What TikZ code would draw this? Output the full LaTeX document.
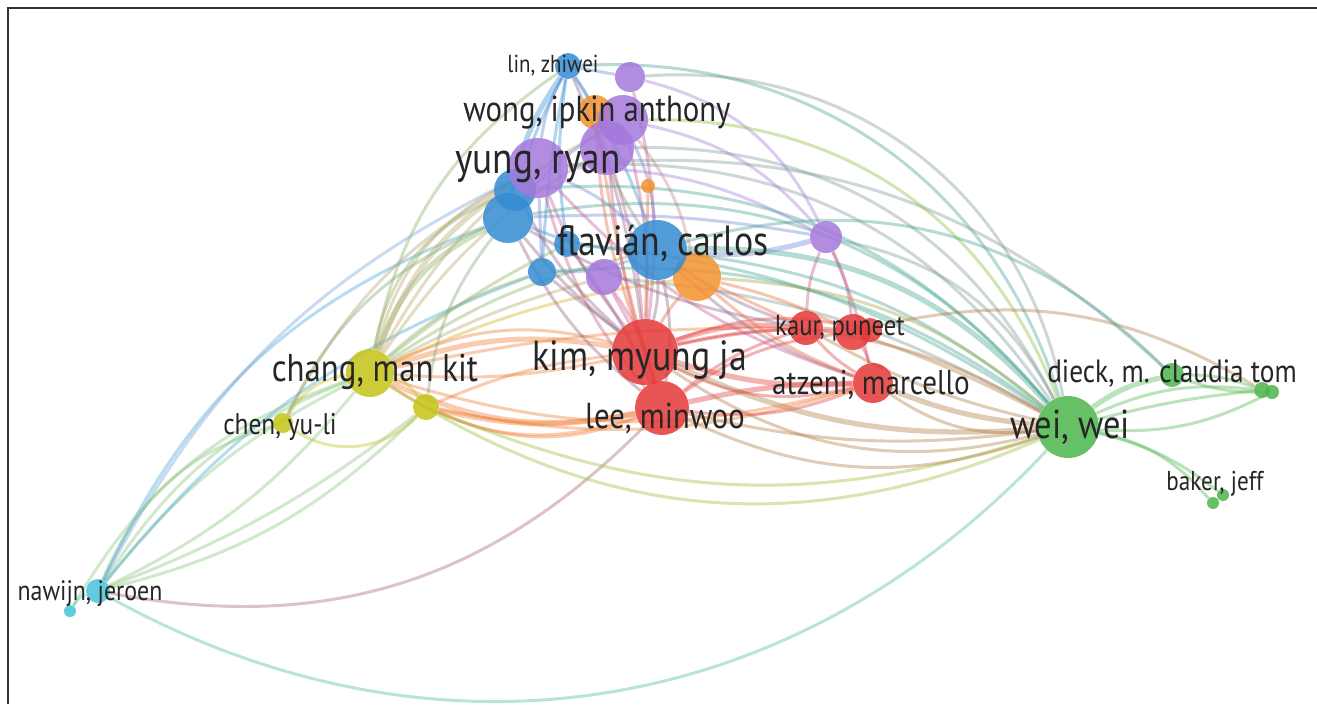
\documentclass[tikz,border=0pt]{standalone}
\usepackage{fontspec}
\setmainfont{PT Sans}[FakeStretch=0.85]
\pgfdeclarelayer{bg}
\pgfsetlayers{bg,main}

\definecolor{cRed}{RGB}{228,56,56}
\definecolor{cGreen}{RGB}{76,182,76}
\definecolor{cBlue}{RGB}{52,140,210}
\definecolor{cYellow}{RGB}{196,196,22}
\definecolor{cPurple}{RGB}{165,120,220}
\definecolor{cCyan}{RGB}{70,196,216}
\definecolor{cOrange}{RGB}{244,146,46}
\colorlet{cYR}{cOrange!75!cRed}
\colorlet{cRG}{cRed!55!cGreen!80!cOrange}

\tikzset{
  bub/.style={circle,inner sep=0pt,minimum size=#1*0.04cm,fill opacity=0.85},
  rd/.style={fill=cRed}, gr/.style={fill=cGreen}, bl/.style={fill=cBlue},
  ye/.style={fill=cYellow}, pu/.style={fill=cPurple}, cy/.style={fill=cCyan},
  og/.style={fill=cOrange},
  heavy/.style={line width=3pt},
  lbl/.style={text=black!85,inner sep=0pt,font=\fontsize{#1}{#1}\selectfont}
}

\begin{document}
\begin{tikzpicture}[x=0.02cm,y=-0.02cm]
  \useasboundingbox (0,0) rectangle (1317,704);

  % clusters
  \node[bub=13,bl] (lin)     at (568,66)  {};
  \node[bub=17,og] (orA)     at (595,112) {};
  \node[bub=15,pu] (puA)     at (630,77)  {};
  \node[bub=27,pu] (puB)     at (607,148) {};
  \node[bub=25,pu] (wong)    at (623,120) {};
  \node[bub=21,bl] (bluA)    at (515,190) {};
  \node[bub=25,bl] (bluB)    at (508,218) {};
  \node[bub=30,pu] (yung)    at (538,168) {};
  \node[bub=7,og]  (orB)     at (648,186) {};
  \node[bub=13,bl] (bluC)    at (567,244) {};
  \node[bub=14,bl] (bluD)    at (542,272) {};
  \node[bub=18,pu] (puC)     at (604,277) {};
  \node[bub=24,og] (orC)     at (697,277) {};
  \node[bub=30,bl] (flavian) at (657,250) {};
  \node[bub=16,pu] (puD)     at (826,237) {};

  \node[bub=33,rd] (kim)     at (645,352) {};
  \node[bub=27,rd] (lee)     at (662,408) {};
  \node[bub=17,rd] (kaur)    at (806,328) {};
  \node[bub=12,rd] (redB)    at (870,330) {};
  \node[bub=18,rd] (redA)    at (853,332) {};
  \node[bub=20,rd] (atzeni)  at (873,383) {};

  \node[bub=24,ye] (chang)   at (370,373) {};
  \node[bub=13,ye] (yeA)     at (426,407) {};
  \node[bub=10,ye] (chen)    at (283,423) {};

  \node[bub=31,gr] (wei)     at (1068,427) {};
  \node[bub=12,gr] (dieck)   at (1172,375) {};
  \node[bub=8,gr]  (grA)     at (1262,390) {};
  \node[bub=7,gr]  (grB)     at (1272,392) {};
  \node[bub=6,gr]  (baker)   at (1223,495) {};
  \node[bub=6,gr]  (grC)     at (1213,503) {};

  \node[bub=12,cy] (nawijn)  at (98,591)  {};
  \node[bub=6,cy]  (cyA)     at (70,611)  {};

  % links
  \begin{pgfonlayer}{bg}
  \fill[white] (0,0) rectangle (1317,704);
  \draw[black!80,line width=1.1pt] (8,704) -- (8,8) -- (1317,8);
  \begin{scope}[every edge/.style={draw,line width=1.7pt,draw opacity=0.38}]
    \path (nawijn) edge[cCyan!50!cGreen,bend right=38] (wei);
    \path (nawijn) edge[gray!60!cRed,bend right=28] (lee);
    \path (nawijn) edge[cCyan!50!cYellow,bend left=18] (chang);
    \path (nawijn) edge[cCyan!50!cYellow,bend left=12] (chang);
    \path (nawijn) edge[cCyan!50!cYellow,bend right=12] (chang);
    \path (nawijn) edge[cCyan!50!cYellow,bend left=25] (chen);
    \path (nawijn) edge[cCyan!50!cBlue,bend left=22] (bluB);
    \path (nawijn) edge[cCyan!50!cPurple,bend left=18] (yung);
    \path (nawijn) edge[cCyan!50!cYellow,bend right=15] (yeA);
    \path (nawijn) edge[cCyan!50!cYellow,bend right=8] (yeA);
    \path (nawijn) edge[cCyan!50!cBlue,bend left=15] (bluD);
    \path (cyA) edge[cCyan,bend left=20] (nawijn);
    \path (cyA) edge[cCyan!50!cYellow,bend left=20] (chang);

    \path (chang) edge[cYellow!60!cBlue,heavy,bend left=22] (bluB);
    \path (chang) edge[cYellow!60!cBlue,bend left=28] (bluA);
    \path (chang) edge[cYellow!60!cPurple,heavy,bend left=18] (yung);
    \path (chang) edge[cYellow!60!cPurple,bend left=24] (yung);
    \path (chang) edge[cYellow!60!cBlue,bend left=12] (bluD);
    \path (chang) edge[cYellow!60!cBlue,bend left=6] (bluC);
    \path (chang) edge[cYellow!60!cBlue,bend left=22] (lin);
    \path (chang) edge[cYellow!60!cPurple,bend left=16] (wong);
    \path (chang) edge[cYellow!60!cPurple,bend left=12] (puB);
    \path (chang) edge[cYellow!60!cPurple,bend left=6] (puC);
    \path (chang) edge[cYellow!60!cBlue,bend left=10] (flavian);
    \path (chang) edge[cYellow!50!cOrange,bend left=8] (orC);
    \path (chang) edge[cYR,heavy,bend left=14] (kim);
    \path (chang) edge[cYR,bend left=20] (kim);
    \path (chang) edge[cYR,heavy,bend right=18] (lee);
    \path (chang) edge[cYR,bend right=26] (lee);
    \path (chang) edge[cYR,bend right=8] (kim);
    \path (yeA) edge[cYR,heavy,bend right=12] (lee);
    \path (yeA) edge[cYR,bend right=22] (lee);
    \path (yeA) edge[cYR,bend left=8] (kim);
    \path (chang) edge[cYellow!60!cGreen,bend right=28] (wei);
    \path (yeA) edge[cYellow!60!cGreen,bend right=20] (wei);
    \path (chang) edge[cYellow,bend right=25] (chen);
    \path (chen) edge[cYellow,bend right=40] (yeA);
    \path (chang) edge[cYellow,bend left=20] (yeA);
    \path (chang) edge[cYR,bend right=16] (atzeni);
    \path (chang) edge[cYR,bend left=6] (kaur);
    \path (yeA) edge[cYR,bend right=14] (atzeni);
    \path (chen) edge[cYellow!50!cBlue,bend left=20] (bluB);
    \path (chen) edge[cYellow!50!cPurple,bend left=16] (yung);
    \path (yeA) edge[cYellow!50!cBlue,bend left=15] (bluB);

    \path (lin) edge[cBlue!60!cPurple,bend right=10] (yung);
    \path (lin) edge[cBlue,heavy,bend right=12] (bluB);
    \path (lin) edge[cBlue,bend right=4] (bluA);
    \path (lin) edge[cBlue,bend left=6] (flavian);
    \path (lin) edge[cBlue!50!cPurple] (puA);
    \path (lin) edge[cBlue!50!cPurple,bend left=8] (puB);
    \path (lin) edge[cBlue,bend right=8] (bluC);
    \path (lin) edge[cBlue,bend right=4] (bluD);
    \path (lin) edge[cBlue!50!cRed,bend left=8] (kim);
    \path (wong) edge[cPurple!50!cBlue,bend left=10] (flavian);
    \path (wong) edge[cPurple!50!cBlue,bend right=10] (bluB);
    \path (wong) edge[cPurple!50!cOrange,bend left=12] (orC);
    \path (wong) edge[cPurple!50!cRed,bend left=8] (kim);
    \path (puB) edge[cPurple!50!cRed,bend right=6] (lee);
    \path (puB) edge[cPurple!50!cRed,bend left=6] (kim);
    \path (puA) edge[cPurple!50!cRed,bend left=10] (kim);
    \path (orA) edge[cOrange!50!cBlue,bend right=10] (flavian);
    \path (orA) edge[cOrange!50!cRed,bend right=8] (kim);
    \path (orA) edge[cOrange!50!cRed,bend right=4] (lee);
    \path (orB) edge[cOrange!50!cRed] (kim);
    \path (yung) edge[cPurple!50!cBlue,bend left=10] (flavian);
    \path (yung) edge[cPurple!50!cRed,bend right=8] (kim);
    \path (yung) edge[cPurple!50!cRed,bend right=12] (lee);
    \path (yung) edge[cPurple!50!cBlue] (bluD);
    \path (bluB) edge[cBlue,bend right=10] (flavian);
    \path (bluA) edge[cBlue!50!cRed,bend right=10] (kim);
    \path (bluB) edge[cBlue!50!cRed,bend right=12] (lee);
    \path (bluB) edge[cBlue!50!cRed,bend right=6] (kim);
    \path (bluD) edge[cBlue!50!cPurple,bend right=10] (flavian);
    \path (bluD) edge[cBlue!50!cRed] (kim);
    \path (puC) edge[cPurple!50!cRed] (kim);
    \path (puC) edge[cPurple!50!cRed,bend left=10] (lee);
    \path (bluC) edge[cBlue!50!cRed,bend left=6] (lee);
    \path (flavian) edge[cBlue!50!cRed,bend left=8] (kim);
    \path (flavian) edge[cBlue!50!cRed,bend left=10] (lee);
    \path (orC) edge[cOrange!50!cRed,bend right=6] (kim);
    \path (puA) edge[cPurple,bend left=25] (puD);
    \path (wong) edge[cPurple,bend left=18] (puD);
    \path (yung) edge[cPurple,bend left=14] (puD);
    \path (bluB) edge[cPurple!50!cBlue,bend left=6] (puD);
    \path (flavian) edge[cPurple!50!cBlue,heavy,bend right=10] (puD);
    \path (puD) edge[cPurple!50!cGreen,bend left=25] (wei);
    \path (puD) edge[cPurple!50!cRed,bend right=10] (kaur);
    \path (puD) edge[cPurple!50!cRed,bend left=10] (redA);
    \path (puD) edge[cPurple!50!cRed,bend left=6] (atzeni);

    \path (wei) edge[cGreen!50!cPurple,bend right=30] (yung);
    \path (wei) edge[cGreen!50!cYellow,bend right=35] (wong);
    \path (wei) edge[cGreen!50!cPurple,bend right=32] (puB);
    \path (wei) edge[cGreen!50!cBlue,bend right=30] (bluB);
    \path (wei) edge[cGreen!50!cBlue,bend right=27] (bluA);
    \path (wei) edge[cGreen!50!cBlue,heavy,bend right=25] (flavian);
    \path (wei) edge[cGreen!50!cBlue,bend right=16] (flavian);
    \path (wei) edge[cGreen!50!cBlue,bend right=38] (lin);
    \path (wei) edge[cGreen!50!cBlue,bend right=20] (bluD);
    \path (wei) edge[cGreen!50!cBlue,bend right=14] (bluC);
    \path (wei) edge[cGreen!50!cPurple,bend right=12] (puC);
    \path (wei) edge[cGreen!50!cOrange,bend right=18] (orC);
    \path (wei) edge[cGreen!50!cPurple,bend right=42] (puA);

    \path (kim) edge[cRed,heavy,bend left=12] (kaur);
    \path (kim) edge[cRed,bend left=4] (kaur);
    \path (kim) edge[cRed,heavy,bend right=10] (atzeni);
    \path (kim) edge[cRed,bend right=20] (atzeni);
    \path (kim) edge[cRed,bend left=8] (redA);
    \path (kim) edge[cRed,bend left=16] (redB);
    \path (lee) edge[cRed,bend left=10] (kaur);
    \path (lee) edge[cRed,heavy,bend left=6] (atzeni);
    \path (lee) edge[cRed,bend right=14] (atzeni);
    \path (lee) edge[cRed,bend left=14] (redA);
    \path (kim) edge[cRed] (lee);
    \path (flavian) edge[cBlue!50!cRed,bend right=8] (kaur);
    \path (flavian) edge[cBlue!50!cRed,bend right=12] (atzeni);
    \path (bluB) edge[cBlue!50!cRed,bend right=10] (kaur);
    \path (yung) edge[cPurple!50!cRed,bend right=14] (atzeni);
    \path (orC) edge[cOrange!50!cRed,bend right=10] (atzeni);
    \path (orC) edge[cOrange!50!cRed] (kaur);
    \path (orC) edge[cOrange!50!cRed,bend left=6] (redA);
    \path (redA) edge[cRed,bend left=10] (atzeni);
    \path (kaur) edge[cRed,bend right=8] (atzeni);
    \path (kaur) edge[cRed] (redB);
    \path (kim) edge[cRG,heavy,bend right=14] (wei);
    \path (kim) edge[cRG,bend right=24] (wei);
    \path (lee) edge[cRG,bend right=10] (wei);
    \path (lee) edge[cRG,bend right=22] (wei);
    \path (kaur) edge[cRG,bend left=10] (wei);
    \path (kaur) edge[cRG,bend right=8] (wei);
    \path (atzeni) edge[cRG,heavy,bend right=8] (wei);
    \path (atzeni) edge[cRG,bend right=20] (wei);
    \path (redA) edge[cRG,bend left=4] (wei);
    \path (redA) edge[cRG,bend left=22] (grA);

    \path (wei) edge[cGreen,heavy,bend left=12] (dieck);
    \path (wei) edge[cGreen,bend left=15] (grA);
    \path (wei) edge[cGreen,bend left=4] (grA);
    \path (wei) edge[cGreen,bend right=15] (grB);
    \path (wei) edge[cGreen,bend left=12] (baker);
    \path (wei) edge[cGreen,bend left=18] (grC);
    \path (dieck) edge[cGreen,bend left=10] (grA);
    \path (dieck) edge[cGreen,bend right=10] (grB);
    \path (dieck) edge[cGreen!50!cBlue,bend right=30] (flavian);
    \path (dieck) edge[cGreen!50!cPurple,bend right=24] (yung);
    \path (baker) edge[cGreen] (grC);
  \end{scope}
  \end{pgfonlayer}

  % labels
  \node[lbl=14] (linT)     at (553,66)   {lin, zhiwei};
  \node[lbl=20.6] (wongT)  at (597,113)  {wong, ipkin anthony};
  \node[lbl=25] (yungT)    at (538,167)  {yung, ryan};
  \node[lbl=24] (flavianT) at (663,243)  {flavián, carlos};
  \node[lbl=16.5] (kaurT)  at (840,328)  {kaur, puneet};
  \node[lbl=24] (kimT)     at (640,360)  {kim, myung ja};
  \node[lbl=22] (changT)   at (375,372)  {chang, man kit};
  \node[lbl=19.5] (atzeniT) at (871,385) {atzeni, marcello};
  \node[lbl=20.5] (leeT)   at (665,418)  {lee, minwoo};
  \node[lbl=17] (chenT)    at (280,427)  {chen, yu-li};
  \node[lbl=18.3] (dieckT) at (1172,374) {dieck, m. claudia tom};
  \node[lbl=23] (weiT)     at (1070,427) {wei, wei};
  \node[lbl=15.5] (bakerT) at (1215,484) {baker, jeff};
  \node[lbl=16] (nawijnT)  at (90,594)   {nawijn, jeroen};
\end{tikzpicture}
\end{document}
